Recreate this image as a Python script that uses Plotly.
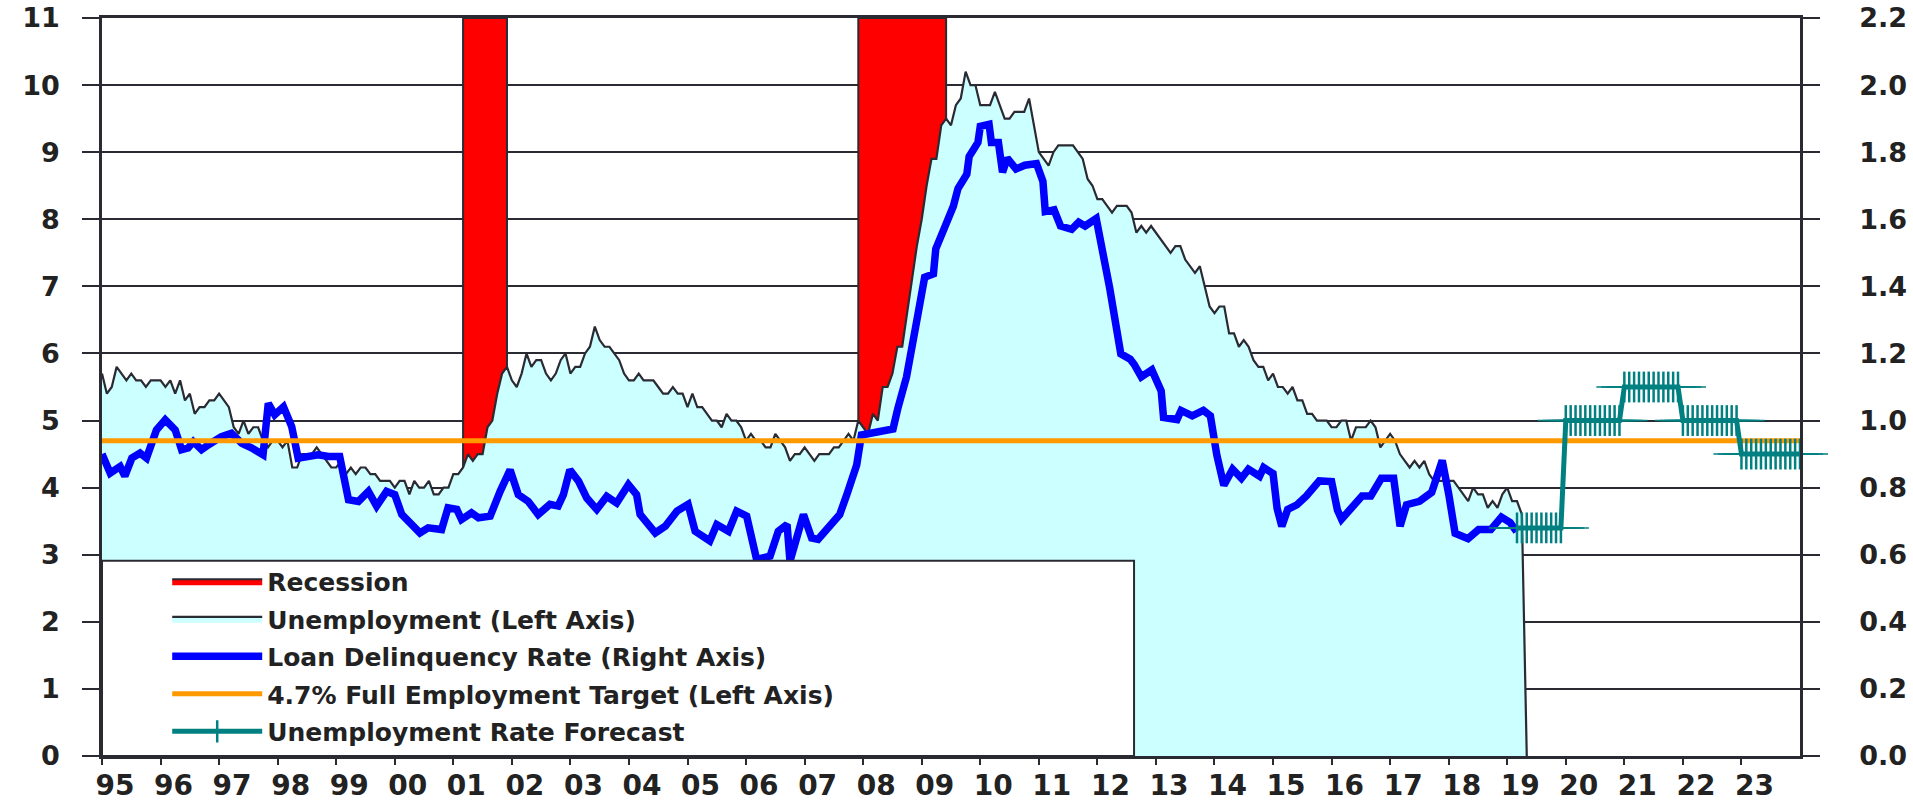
import plotly.graph_objects as go

# ---------------- data ----------------
START_YEAR = 1995

# Unemployment rate (%), monthly from Jan 1995; the series drops to 0 after Apr 2019
u1995 = [5.7, 5.4, 5.5, 5.8, 5.7, 5.6, 5.7, 5.6, 5.6, 5.5, 5.6, 5.6]
u1996 = [5.6, 5.5, 5.6, 5.4, 5.6, 5.3, 5.4, 5.1, 5.2, 5.2, 5.3, 5.3]
u1997 = [5.4, 5.3, 5.2, 4.9, 4.8, 5.0, 4.8, 4.9, 4.9, 4.7, 4.6, 4.7]
u1998 = [4.7, 4.6, 4.7, 4.3, 4.3, 4.5, 4.5, 4.5, 4.6, 4.5, 4.4, 4.3]
u1999 = [4.3, 4.4, 4.2, 4.3, 4.2, 4.3, 4.3, 4.2, 4.2, 4.1, 4.1, 4.1]
u2000 = [4.0, 4.1, 4.1, 3.9, 4.1, 4.0, 4.0, 4.1, 3.9, 3.9, 4.0, 4.0]
u2001 = [4.2, 4.2, 4.3, 4.5, 4.4, 4.5, 4.5, 4.9, 5.0, 5.4, 5.7, 5.8]
u2002 = [5.6, 5.5, 5.7, 6.0, 5.8, 5.9, 5.9, 5.7, 5.6, 5.7, 5.9, 6.0]
u2003 = [5.7, 5.8, 5.8, 6.0, 6.1, 6.4, 6.2, 6.1, 6.1, 6.0, 5.9, 5.7]
u2004 = [5.6, 5.6, 5.7, 5.6, 5.6, 5.6, 5.5, 5.4, 5.4, 5.5, 5.4, 5.4]
u2005 = [5.2, 5.4, 5.2, 5.2, 5.1, 5.0, 5.0, 4.9, 5.1, 5.0, 5.0, 4.9]
u2006 = [4.7, 4.8, 4.7, 4.7, 4.6, 4.6, 4.8, 4.7, 4.6, 4.4, 4.5, 4.5]
u2007 = [4.6, 4.5, 4.4, 4.5, 4.5, 4.5, 4.6, 4.6, 4.7, 4.8, 4.7, 5.0]
u2008 = [4.9, 4.8, 5.1, 5.0, 5.5, 5.5, 5.7, 6.1, 6.1, 6.6, 7.1, 7.6]
u2009 = [8.0, 8.5, 8.9, 8.9, 9.4, 9.5, 9.4, 9.7, 9.8, 10.2, 10.0, 10.0]
u2010 = [9.7, 9.7, 9.7, 9.9, 9.7, 9.5, 9.5, 9.6, 9.6, 9.6, 9.8, 9.4]
u2011 = [9.0, 8.9, 8.8, 9.0, 9.1, 9.1, 9.1, 9.1, 9.0, 8.9, 8.6, 8.5]
u2012 = [8.3, 8.3, 8.2, 8.1, 8.2, 8.2, 8.2, 8.1, 7.8, 7.9, 7.8, 7.9]
u2013 = [7.8, 7.7, 7.6, 7.5, 7.6, 7.6, 7.4, 7.3, 7.2, 7.3, 7.0, 6.7]
u2014 = [6.6, 6.7, 6.7, 6.3, 6.3, 6.1, 6.2, 6.1, 5.9, 5.8, 5.8, 5.6]
u2015 = [5.7, 5.5, 5.5, 5.4, 5.5, 5.3, 5.3, 5.1, 5.1, 5.0, 5.0, 5.0]
u2016 = [4.9, 4.9, 5.0, 5.0, 4.7, 4.9, 4.9, 4.9, 5.0, 4.9, 4.6, 4.7]
u2017 = [4.8, 4.7, 4.5, 4.4, 4.3, 4.4, 4.3, 4.4, 4.2, 4.1, 4.1, 4.1]
u2018 = [4.1, 4.1, 4.0, 3.9, 3.8, 4.0, 3.9, 3.9, 3.7, 3.8, 3.7, 3.9]
u2019 = [4.0, 3.8, 3.8, 3.6, 0.0]

unemployment = (u1995 + u1996 + u1997 + u1998 + u1999 + u2000 + u2001 + u2002
                + u2003 + u2004 + u2005 + u2006 + u2007 + u2008 + u2009 + u2010
                + u2011 + u2012 + u2013 + u2014 + u2015 + u2016 + u2017 + u2018 + u2019)

# Recessions (first and last month), drawn up to the top of the left axis
recession_start = ["2001-03", "2007-12"]
recession_end = ["2001-12", "2009-06"]
RECESSION_LEVEL = 11

# Loan delinquency rate (%), right axis: (decimal year, value)
delinq_t = [
    1995.00, 1995.14, 1995.31, 1995.39, 1995.51, 1995.65, 1995.76, 1995.93, 1996.08, 1996.25,
    1996.36, 1996.47, 1996.56, 1996.70, 1996.82, 1997.04, 1997.21, 1997.39, 1997.56, 1997.75,
    1997.84, 1997.95, 1998.10, 1998.24, 1998.35, 1998.52, 1998.69, 1998.87, 1999.06, 1999.21,
    1999.38, 1999.55, 1999.69, 1999.86, 2000.00, 2000.12, 2000.26, 2000.43, 2000.57, 2000.80,
    2000.91, 2001.06, 2001.14, 2001.31, 2001.43, 2001.63, 2001.80, 2001.97, 2002.11, 2002.28,
    2002.45, 2002.65, 2002.79, 2002.88, 2002.99, 2003.14, 2003.28, 2003.45, 2003.62, 2003.79,
    2003.99, 2004.13, 2004.19, 2004.45, 2004.62, 2004.82, 2005.01, 2005.13, 2005.38, 2005.50,
    2005.70, 2005.84, 2006.01, 2006.18, 2006.41, 2006.55, 2006.70, 2006.75, 2006.98, 2007.12,
    2007.23, 2007.43, 2007.60, 2007.72, 2007.89, 2007.97, 2008.17, 2008.40, 2008.51, 2008.59,
    2008.74, 2008.94, 2009.05, 2009.20, 2009.24, 2009.39, 2009.54, 2009.62, 2009.77, 2009.81,
    2009.96, 2010.00, 2010.15, 2010.19, 2010.31, 2010.38, 2010.46, 2010.61, 2010.76, 2010.96,
    2011.07, 2011.11, 2011.26, 2011.37, 2011.56, 2011.68, 2011.79, 2011.98, 2012.10, 2012.21,
    2012.40, 2012.56, 2012.63, 2012.75, 2012.93, 2013.09, 2013.13, 2013.36, 2013.43, 2013.62,
    2013.81, 2013.93, 2014.04, 2014.16, 2014.31, 2014.46, 2014.58, 2014.77, 2014.84, 2015.00,
    2015.07, 2015.15, 2015.25, 2015.41, 2015.57, 2015.79, 2016.00, 2016.10, 2016.17, 2016.34,
    2016.52, 2016.67, 2016.85, 2017.06, 2017.17, 2017.28, 2017.50, 2017.71, 2017.89, 2018.00,
    2018.11, 2018.33, 2018.51, 2018.72, 2018.90, 2019.05, 2019.16,
]
delinq_v = [
    0.900, 0.843, 0.863, 0.834, 0.888, 0.903, 0.888, 0.972, 1.002, 0.972,
    0.913, 0.918, 0.937, 0.913, 0.928, 0.952, 0.962, 0.932, 0.918, 0.898,
    1.051, 1.017, 1.041, 0.982, 0.888, 0.893, 0.898, 0.893, 0.893, 0.764,
    0.759, 0.789, 0.745, 0.789, 0.779, 0.720, 0.695, 0.665, 0.680, 0.675,
    0.740, 0.735, 0.705, 0.725, 0.710, 0.715, 0.789, 0.853, 0.779, 0.759,
    0.720, 0.750, 0.745, 0.779, 0.853, 0.819, 0.769, 0.735, 0.774, 0.754,
    0.809, 0.779, 0.720, 0.665, 0.685, 0.730, 0.750, 0.670, 0.641, 0.690,
    0.670, 0.730, 0.715, 0.586, 0.596, 0.670, 0.690, 0.581, 0.720, 0.650,
    0.646, 0.690, 0.720, 0.779, 0.868, 0.957, 0.964, 0.975, 0.975, 1.035,
    1.130, 1.321, 1.427, 1.437, 1.512, 1.575, 1.639, 1.692, 1.734, 1.787,
    1.829, 1.877, 1.883, 1.829, 1.829, 1.740, 1.782, 1.750, 1.761, 1.766,
    1.713, 1.623, 1.628, 1.580, 1.570, 1.591, 1.580, 1.602, 1.501, 1.395,
    1.199, 1.183, 1.167, 1.130, 1.151, 1.088, 1.009, 1.003, 1.030, 1.014,
    1.030, 1.014, 0.897, 0.807, 0.855, 0.828, 0.855, 0.834, 0.860, 0.842,
    0.738, 0.685, 0.735, 0.749, 0.775, 0.820, 0.818, 0.733, 0.706, 0.738,
    0.775, 0.775, 0.828, 0.828, 0.685, 0.749, 0.759, 0.786, 0.881, 0.781,
    0.664, 0.648, 0.675, 0.675, 0.712, 0.696, 0.669,
]

# Full employment target (%)
TARGET = 4.7

# Unemployment rate forecast (%), monthly from Mar 2019
FORECAST_START = "2019-03"
forecast = [
    3.4, 3.4, 3.4, 3.4, 3.4, 3.4, 3.4, 3.4, 3.4, 3.4,
    5.0, 5.0, 5.0, 5.0, 5.0, 5.0, 5.0, 5.0, 5.0, 5.0, 5.0, 5.0,
    5.5, 5.5, 5.5, 5.5, 5.5, 5.5, 5.5, 5.5, 5.5, 5.5, 5.5, 5.5,
    5.0, 5.0, 5.0, 5.0, 5.0, 5.0, 5.0, 5.0, 5.0, 5.0, 5.0, 5.0,
    4.5, 4.5, 4.5, 4.5, 4.5, 4.5, 4.5, 4.5, 4.5, 4.5, 4.5, 4.5, 4.5,
]

# X axis
X_END = 2024
tick_years = list(range(1995, 2024))
tick_labels = ["95", "96", "97", "98", "99", "00", "01", "02", "03", "04", "05", "06",
               "07", "08", "09", "10", "11", "12", "13", "14", "15", "16", "17", "18",
               "19", "20", "21", "22", "23"]

legend_names = ["Recession", "Unemployment (Left Axis)", "Loan Delinquency Rate (Right Axis)",
                "4.7% Full Employment Target (Left Axis)", "Unemployment Rate Forecast"]


# ---------------- helpers ----------------
def ym(s):
    y, m = s.split("-")
    return int(y) + (int(m) - 1) / 12.0


unemp_x = [START_YEAR + i / 12.0 for i in range(len(unemployment))]
f0 = ym(FORECAST_START)
forecast_x = [f0 + i / 12.0 for i in range(len(forecast))]

rec_x, rec_y = [], []
for s, e in zip(recession_start, recession_end):
    xs, xe = ym(s), ym(e)
    rec_x += [xs, xs, xe, xe, xs, None]
    rec_y += [0, RECESSION_LEVEL, RECESSION_LEVEL, 0, 0, None]

DARK = "#2a2a33"
FONT = "DejaVu Sans"

fig = go.Figure()

fig.add_trace(go.Scatter(
    x=rec_x, y=rec_y, mode="lines", fill="toself", fillcolor="#FF0000",
    line=dict(color=DARK, width=2), name=legend_names[0], legendgroup="g1",
    hoverinfo="skip", yaxis="y"))

fig.add_trace(go.Scatter(
    x=unemp_x, y=unemployment, mode="lines", fill="tozeroy", fillcolor="#CCFFFF",
    line=dict(color=DARK, width=2.2), name=legend_names[1], legendgroup="g2",
    yaxis="y"))

fig.add_trace(go.Scatter(
    x=delinq_t, y=delinq_v, mode="lines", line=dict(color="#0000FF", width=7.5),
    name=legend_names[2], legendgroup="g3", yaxis="y2"))

fig.add_trace(go.Scatter(
    x=[START_YEAR, X_END], y=[TARGET, TARGET], mode="lines",
    line=dict(color="#FF9900", width=5), name=legend_names[3], legendgroup="g4",
    yaxis="y3"))

fig.add_trace(go.Scatter(
    x=forecast_x, y=forecast, mode="lines+markers",
    line=dict(color="#008080", width=5),
    marker=dict(symbol="line-ns", size=22, line=dict(color="#008080", width=2.5)),
    name=legend_names[4], legendgroup="g5", yaxis="y3", cliponaxis=False))

fig.add_trace(go.Scatter(
    x=forecast_x, y=forecast, mode="markers",
    marker=dict(symbol="line-ew", size=40, line=dict(color="#008080", width=1.5)),
    showlegend=False, legendgroup="g5", yaxis="y3", cliponaxis=False, hoverinfo="skip"))

tickfont = dict(family=FONT, size=27, color="#222", weight="bold")

fig.update_layout(
    width=1913, height=806,
    margin=dict(l=102, r=113, t=18, b=50, pad=0),
    paper_bgcolor="white", plot_bgcolor="white",
    showlegend=True,
    legend=dict(x=0.0384, y=0.2675, xanchor="left", yanchor="top",
                bgcolor="rgba(0,0,0,0)", borderwidth=0,
                font=dict(family=FONT, size=25, color="#222", weight="bold"),
                itemwidth=90, tracegroupgap=2, traceorder="grouped"),
    xaxis=dict(range=[START_YEAR, X_END], tickvals=tick_years, ticktext=tick_labels,
               ticks="outside", ticklen=6, tickwidth=2, tickcolor=DARK,
               showline=True, linecolor=DARK, linewidth=2.5, mirror=True,
               showgrid=False, zeroline=False, automargin=False,
               tickfont=dict(family=FONT, size=28, color="#222", weight="bold"),
               ticklabelshift=13, ticklabelstandoff=-3, ticklabeloverflow="allow"),
    yaxis=dict(range=[0, 11], dtick=1, tick0=0, ticks="outside", ticklen=17, tickwidth=2,
               tickcolor=DARK, showline=True, linecolor=DARK, linewidth=2.5,
               showgrid=True, gridcolor=DARK, gridwidth=2, zeroline=False,
               automargin=False, tickfont=tickfont, ticklabelstandoff=17,
               ticklabeloverflow="allow"),
    yaxis2=dict(range=[0, 2.2], dtick=0.2, tick0=0, tickformat=".1f", overlaying="y",
                side="right", ticks="outside", ticklen=17, tickwidth=2, tickcolor=DARK,
                showline=True, linecolor=DARK, linewidth=2.5, showgrid=False,
                zeroline=False, automargin=False, tickfont=tickfont,
                ticklabelstandoff=34, ticklabeloverflow="allow"),
    yaxis3=dict(range=[0, 11], overlaying="y", visible=False),
    shapes=[dict(type="rect", xref="paper", yref="paper", x0=0, x1=0.6078, y0=0, y1=0.2645,
                 fillcolor="white", line=dict(color=DARK, width=2), layer="above")],
)

fig.write_html("out.html")
